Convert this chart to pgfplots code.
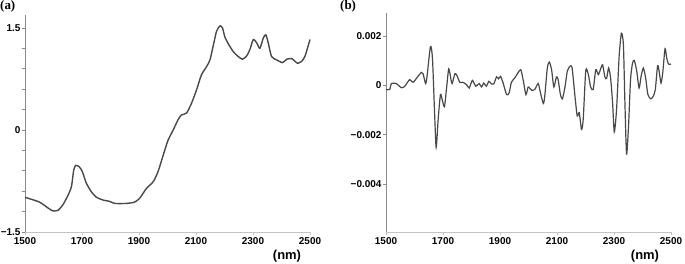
\documentclass[border=0pt]{standalone}
\usepackage{fontspec}
\setmainfont{Liberation Sans}
\newfontfamily\serifbf{Liberation Serif}
\usepackage{pgfplots}
\pgfplotsset{compat=1.18}

\definecolor{curve}{HTML}{484848}
\definecolor{yaxis}{HTML}{8A8A8A}
\definecolor{xaxis}{HTML}{C4C4C4}

\pgfplotsset{
  panel/.style={
    scale only axis,
    width=285bp,
    xmin=1500, xmax=2500,
    axis x line=bottom,
    axis y line=left,
    axis line style={-},
    x axis line style={xaxis, line width=1bp},
    y axis line style={yaxis, line width=1bp},
    xtick={1500,1700,1900,2100,2300,2500},
    tick align=outside,
    major tick length=3bp,
    minor tick length=3bp,
    tick style={yaxis, line width=0.6bp},
    x tick style={xaxis},
    ticklabel style={font=\bfseries\fontsize{10}{12}\selectfont},
    xticklabel style={yshift=1bp},
    yticklabel style={xshift=2bp},
    /pgf/number format/assume math mode=true,
    /pgf/number format/set thousands separator={},
    scaled y ticks=false,
    clip=false,
  },
}

\pgfplotstableread{
x y
1500 -0.99
1551 -1.06
1575 -1.13
1598 -1.19
1616 -1.18
1633 -1.10
1651 -0.96
1663 -0.83
1671 -0.59
1678 -0.52
1690 -0.54
1701 -0.61
1715 -0.78
1733 -0.91
1751 -0.99
1774 -1.03
1797 -1.05
1815 -1.08
1856 -1.08
1885 -1.06
1903 -1.00
1926 -0.86
1950 -0.76
1967 -0.61
1985 -0.37
2002 -0.15
2020 0.00
2037 0.15
2049 0.22
2067 0.25
2084 0.39
2102 0.59
2119 0.81
2137 0.93
2149 1.03
2160 1.23
2172 1.45
2184 1.53
2193 1.50
2201 1.37
2213 1.27
2231 1.15
2248 1.08
2263 1.04
2278 1.09
2289 1.18
2301 1.33
2313 1.28
2324 1.20
2336 1.35
2345 1.40
2354 1.27
2365 1.08
2383 1.03
2404 0.99
2418 1.04
2436 1.05
2447 1.01
2457 0.98
2471 1.01
2482 1.08
2491 1.20
2500 1.33
}\specA

\pgfplotstableread{
x y
1500 -0.00017
1513 -0.00017
1519 0.00007
1536 0.00007
1554 -0.00010
1566 -0.00004
1583 0.00023
1595 0.00012
1612 0.00036
1624 0.00052
1630 0.00047
1639 0.00007
1644 0.00036
1656 0.00157
1663 0.00110
1670 -0.00098
1676 -0.00252
1683 -0.00138
1691 -0.00038
1697 -0.00058
1705 -0.00087
1712 -0.00017
1720 0.00066
1727 0.00030
1732 0.00007
1742 0.00047
1749 0.00039
1759 0.00012
1770 0.00012
1782 0.00003
1792 -0.00011
1803 0.00020
1815 -0.00004
1827 0.00007
1835 -0.00007
1843 0.00009
1852 -0.00004
1861 0.00016
1870 0.00005
1878 0.00005
1888 0.00034
1895 0.00026
1902 0.00036
1911 0.00009
1923 -0.00038
1932 -0.00031
1940 0.00012
1952 0.00030
1964 0.00052
1973 0.00063
1981 0.00023
1991 -0.00038
1999 -0.00007
2011 -0.00020
2022 -0.00017
2034 0.00007
2042 -0.00031
2052 -0.00074
2057 -0.00044
2066 0.00070
2073 0.00094
2081 0.00063
2089 -0.00007
2098 0.00034
2104 0.00023
2112 -0.00038
2119 -0.00055
2128 -0.00007
2136 0.00056
2145 0.00077
2153 0.00070
2163 -0.00044
2171 -0.00125
2178 -0.00111
2186 -0.00179
2192 -0.00138
2201 0.00060
2210 0.00043
2218 -0.00007
2227 -0.00017
2236 0.00063
2245 0.00043
2253 0.00066
2260 0.00083
2268 0.00034
2274 0.00027
2281 0.00070
2288 0.00030
2295 -0.00071
2301 -0.00189
2309 -0.00098
2318 0.00117
2326 0.00211
2333 0.00164
2338 -0.00058
2344 -0.00279
2351 -0.00165
2358 0.00023
2365 0.00090
2371 0.00101
2379 0.00063
2388 -0.00011
2395 0.00036
2403 0.00070
2411 0.00030
2419 -0.00038
2429 -0.00055
2438 -0.00044
2445 -0.00017
2453 0.00079
2459 0.00052
2465 0.00009
2471 0.00050
2479 0.00148
2485 0.00110
2491 0.00086
2500 0.00086
}\specB

\begin{document}
\begin{tikzpicture}
\path[use as bounding box] (-25bp,-32bp) rectangle (660bp,232bp);

% (a) spectrum
\begin{axis}[
  panel,
  at={(0bp,0bp)}, anchor=south west,
  height=217bp,
  ymin=-1.5, ymax=1.69,
  ytick={-1.5,0,1.5},
  yticklabels={−1.5,0,1.5},
  minor ytick={-1.2,-0.9,-0.6,-0.3,0.3,0.6,0.9,1.2},
]
\addplot[curve, line width=1.4bp, smooth, tension=0.4] table[x=x,y=y] {\specA};
\end{axis}
\node[anchor=north west, inner sep=0pt, font=\serifbf\bfseries\fontsize{13}{15}\selectfont] at (-25bp,232bp) {(a)};
\node[anchor=center, inner sep=0pt, font=\bfseries\fontsize{13}{15}\selectfont] at (262bp,-24bp) {(nm)};

% (b) second derivative
\begin{axis}[
  panel,
  at={(361bp,0bp)}, anchor=south west,
  height=219bp,
  ymin=-0.00595, ymax=0.00293,
  ytick={-0.004,-0.002,0,0.002},
  yticklabels={−0.004,−0.002,0,0.002},
]
\addplot[curve, line width=1.2bp, smooth, tension=0.4] table[x=x,y=y] {\specB};
\end{axis}
\node[anchor=north west, inner sep=0pt, font=\serifbf\bfseries\fontsize{13}{15}\selectfont] at (315bp,232bp) {(b)};
\node[anchor=center, inner sep=0pt, font=\bfseries\fontsize{13}{15}\selectfont] at (620bp,-24bp) {(nm)};
\end{tikzpicture}
\end{document}
